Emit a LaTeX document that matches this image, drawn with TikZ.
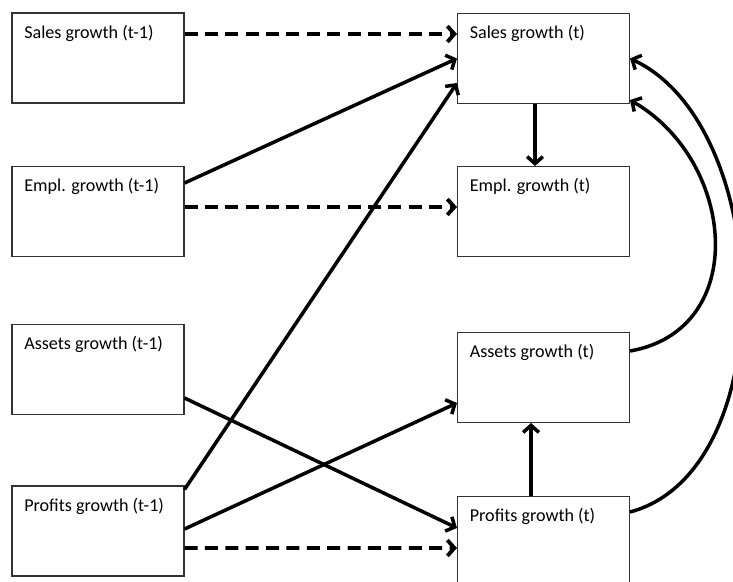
\documentclass[tikz,border=0pt]{standalone}
\usepackage{fontspec}
\setmainfont{Carlito}
\usetikzlibrary{arrows.meta}

\begin{document}
\begin{tikzpicture}[
        box/.style={draw=black!80,line width=0.6pt,minimum width=3.44cm,minimum height=1.8cm},
        txt/.style={anchor=north west,inner sep=0pt,xshift=0.25cm,yshift=-0.24cm,font=\fontsize{10.3}{12.4}\selectfont},
        flow/.style={line width=2pt,-{Straight Barb[length=4pt,width=9pt]}},
        lag/.style={flow,line width=2.2pt,dash pattern=on 7.4pt off 4.2pt}
    ]
                \useasboundingbox (0,0) rectangle (14.66,11.62);
                \node[box,label={[txt]north west:Sales growth (t-1)}] (S_l) at (1.96,10.46) {};
                \node[box,label={[txt]north west:Empl. growth (t-1)}] (E_l) at (1.96,7.39) {};
                \node[box,label={[txt]north west:Assets growth (t-1)}] (A_l) at (1.96,4.23) {};
                \node[box,label={[txt]north west:Profits growth (t-1)}] (P_l) at (1.96,1.0) {};
                \node[box,label={[txt]north west:Sales growth (t)}] (S_t) at (10.87,10.45) {};
                \node[box,label={[txt]north west:Empl. growth (t)}] (E_t) at (10.87,7.39) {};
                \node[box,label={[txt]north west:Assets growth (t)}] (A_t) at (10.87,4.07) {};
                \node[box,label={[txt]north west:Profits growth (t)}] (P_t) at (10.87,0.79) {};
                \draw[lag] ([yshift=0.48cm]S_l.east) -- ([yshift=0.49cm]S_t.west);
                \draw[lag] ([yshift=0.09cm]E_l.east) -- ([yshift=0.09cm]E_t.west);
                \draw[lag] ([yshift=-0.34cm]P_l.east) -- ([yshift=-0.13cm]P_t.west);
                \draw[flow] ([yshift=0.57cm]E_l.east) -- (S_t.west);
                \draw[flow] ([yshift=-0.08cm]P_l.north east) -- ([yshift=-0.49cm]S_t.west);
                \draw[flow] ([yshift=-0.57cm]A_l.east) -- ([yshift=0.27cm]P_t.west);
                \draw[flow] ([yshift=0.04cm]P_l.east) -- ([yshift=-0.51cm]A_t.west);
                \draw[flow] ([xshift=-0.17cm]S_t.south) -- ([xshift=-0.17cm]E_t.north);
                \draw[flow] ([xshift=-0.25cm]P_t.north) -- ([xshift=-0.25cm]A_t.south);
                \draw[flow] ([yshift=0.53cm]A_t.east) to[out=10,in=-30,looseness=1.25] ([yshift=-0.83cm]S_t.east);
                \draw[flow] ([yshift=0.59cm]P_t.east) to[out=15,in=-25,looseness=0.9] (S_t.east);
            \end{tikzpicture}
\end{document}
